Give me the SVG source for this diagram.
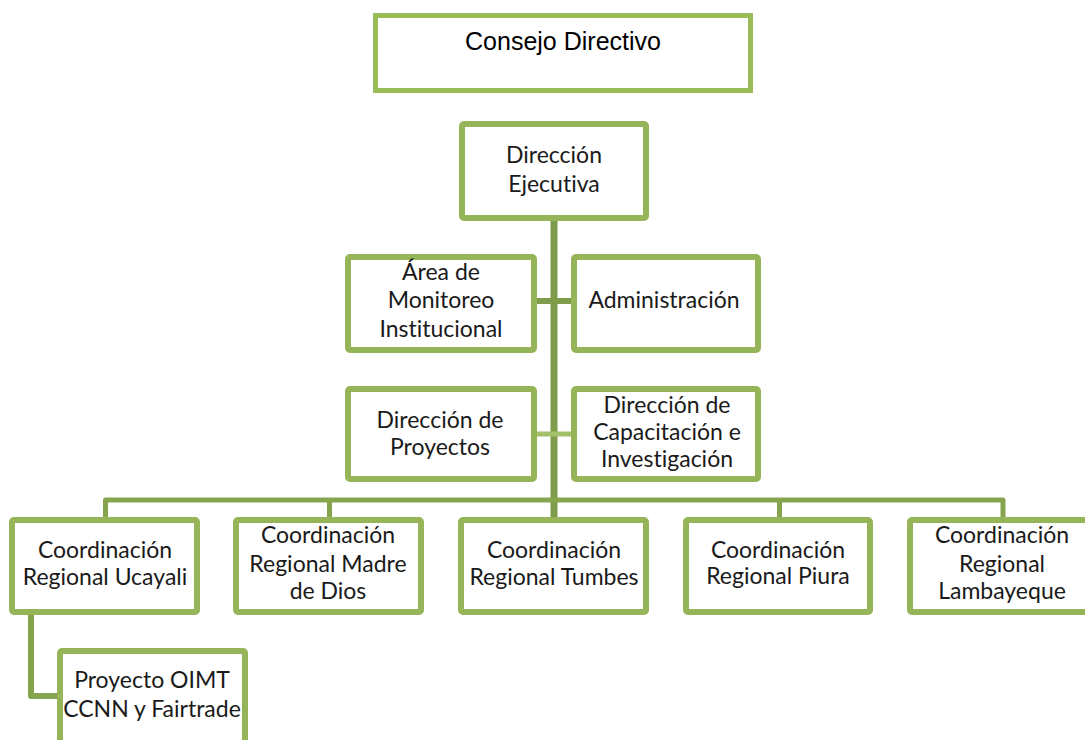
<svg xmlns="http://www.w3.org/2000/svg" width="1085" height="740" viewBox="0 0 1085 740">
<style>
.box{fill:#fff;stroke:#95B558;stroke-width:6}
.top{fill:#fff;stroke:#9BBB59;stroke-width:5}
.c{fill:none;stroke:#86A44E;stroke-width:6;stroke-linejoin:round}
.t{font-family:Lato,"Liberation Sans",sans-serif;font-size:23px;fill:#1a1a1a;text-anchor:middle;font-variant-ligatures:none}
.a{font-family:"Liberation Sans",Arial,sans-serif;font-size:25px;fill:#000;text-anchor:middle}
</style>
<rect width="1085" height="740" fill="#fff"/>
<g id="connectors">
<line class="c" x1="554" y1="218" x2="554" y2="518" style="stroke-width:7;stroke:#7F9C4A"/>
<line class="c" x1="535" y1="301" x2="573" y2="301" style="stroke:#7F9C4A"/>
<line class="c" x1="535" y1="434" x2="573" y2="434" style="stroke:#A3C06B;stroke-width:5"/>
<path class="c" d="M105.5 518 V500 H1003 V518" style="stroke-width:5"/>
<line class="c" x1="329.5" y1="500" x2="329.5" y2="518" style="stroke-width:5"/>
<line class="c" x1="779.5" y1="500" x2="779.5" y2="518" style="stroke-width:5"/>
<path class="c" d="M31 613 V696 H59"/>
</g>
<g id="consejo"><rect class="top" x="375.5" y="15.5" width="375" height="75"/><text class="a" x="563" y="50">Consejo Directivo</text></g>
<g id="direccion-ejecutiva"><rect class="box" x="462" y="124" width="184" height="94" rx="2"/><text class="t" x="554" y="163">Dirección</text><text class="t" x="554" y="192">Ejecutiva</text></g>
<g id="area-monitoreo"><rect class="box" x="348" y="257" width="186" height="93" rx="2"/><text class="t" x="441" y="280">Área de</text><text class="t" x="441" y="308">Monitoreo</text><text class="t" x="441" y="337">Institucional</text></g>
<g id="administracion"><rect class="box" x="574" y="257" width="184" height="93" rx="2"/><text class="t" x="664" y="308">Administración</text></g>
<g id="direccion-proyectos"><rect class="box" x="348" y="389" width="186" height="90" rx="2"/><text class="t" x="440" y="428">Dirección de</text><text class="t" x="440" y="455">Proyectos</text></g>
<g id="direccion-capacitacion"><rect class="box" x="574" y="389" width="184" height="90" rx="2"/><text class="t" x="667" y="413">Dirección de</text><text class="t" x="667" y="440">Capacitación e</text><text class="t" x="667" y="467">Investigación</text></g>
<g id="ucayali"><rect class="box" x="12" y="520" width="185" height="92" rx="2"/><text class="t" x="105" y="558">Coordinación</text><text class="t" x="105" y="585">Regional Ucayali</text></g>
<g id="madre-de-dios"><rect class="box" x="236" y="520" width="185" height="92" rx="2"/><text class="t" x="328" y="543">Coordinación</text><text class="t" x="328" y="572">Regional Madre</text><text class="t" x="328" y="599">de Dios</text></g>
<g id="tumbes"><rect class="box" x="461" y="520" width="185" height="92" rx="2"/><text class="t" x="554" y="558">Coordinación</text><text class="t" x="554" y="585">Regional Tumbes</text></g>
<g id="piura"><rect class="box" x="686" y="520" width="184" height="92" rx="2"/><text class="t" x="778" y="558">Coordinación</text><text class="t" x="778" y="584">Regional Piura</text></g>
<g id="lambayeque"><rect class="box" x="910" y="520" width="185" height="92" rx="2"/><text class="t" x="1002" y="543">Coordinación</text><text class="t" x="1002" y="572">Regional</text><text class="t" x="1002" y="599">Lambayeque</text></g>
<g id="proyecto-oimt"><rect class="box" x="60" y="651" width="185" height="100" rx="2"/><text class="t" x="152" y="688">Proyecto OIMT</text><text class="t" x="152" y="717">CCNN y Fairtrade</text></g>
</svg>
